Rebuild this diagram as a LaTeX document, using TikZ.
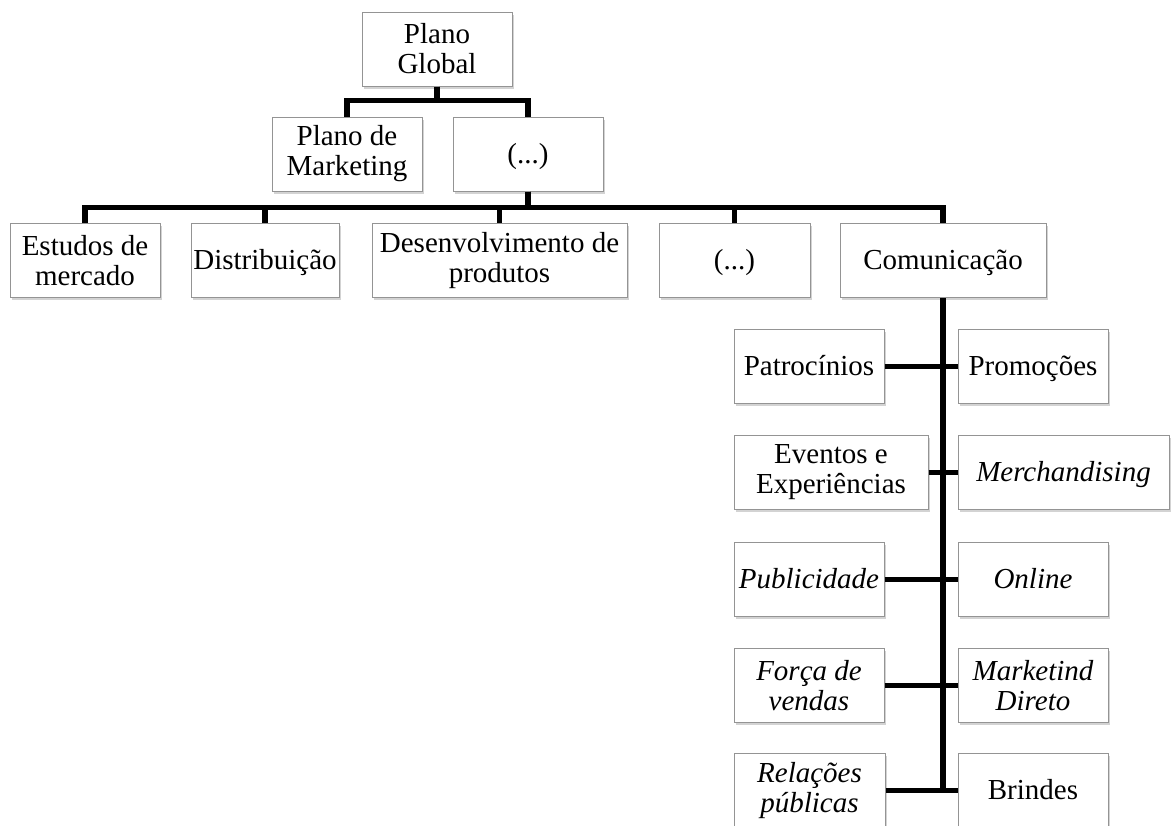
\documentclass[tikz,border=0pt]{standalone}
\usepackage{fontspec}
\setmainfont{Liberation Serif}
\usetikzlibrary{shadows}
\begin{document}
\begin{tikzpicture}[x=1pt,y=-1pt,
  box/.style={draw=black!42,line width=1pt,fill=white,inner sep=0pt,
    minimum height=74pt,align=center,
    font=\fontsize{29}{30}\selectfont,
    drop shadow={opacity=0.35,shadow xshift=1.8pt,shadow yshift=-2.5pt}},
  oneline/.style={text height=23.5pt,text depth=5pt},
  link/.style={line width=5.2pt,black}]
\useasboundingbox (0,0) rectangle (1173,825);
\clip (0,0) rectangle (1173,825);

% top level
\node[box,minimum width=150pt] (pg) at (437,49) {Plano\\Global};
% second level
\node[box,minimum width=150pt] (pm) at (347,154) {Plano de\\Marketing};
\node[box,oneline,minimum width=150pt] (etc1) at (528,154) {(...)};
% third level
\node[box,minimum width=150pt] (est) at (85,260.5) {Estudos de\\mercado};
\node[box,oneline,minimum width=148pt] (dis) at (265,260.5) {Distribuição};
\node[box,minimum width=255pt] (dev) at (499.5,260.5) {Desenvolvimento de\\produtos};
\node[box,oneline,minimum width=151pt] (etc2) at (734.5,260.5) {(...)};
\node[box,oneline,minimum width=206pt] (com) at (943,260.5) {Comunicação};
% communication tools
\node[box,oneline,minimum width=150pt] (pat) at (809,366.5) {Patrocínios};
\node[box,oneline,minimum width=150pt] (pro) at (1033,366.5) {Promoções};
\node[box,minimum width=194pt] (eve) at (831,472.5) {Eventos e\\Experiências};
\node[box,oneline,minimum width=211pt] (mer) at (1063.5,472.5) {\itshape Merchandising};
\node[box,oneline,minimum width=150pt] (pub) at (809,579.5) {\itshape Publicidade};
\node[box,oneline,minimum width=150pt] (onl) at (1033,579.5) {\itshape Online};
\node[box,minimum width=150pt] (frc) at (809,685.5) {\itshape Força de\\\itshape vendas};
\node[box,minimum width=150pt] (mkd) at (1033,685.5) {\itshape Marketind\\\itshape Direto};
\node[box,minimum width=151pt] (rel) at (809.5,790.5) {\itshape Relações\\\itshape públicas};
\node[box,oneline,minimum width=150pt] (bri) at (1033,790.5) {Brindes};

% connectors
\draw[link] (pg.south) -- ++(0,14) -| (pm.north);
\draw[link] (pg.south) -- ++(0,14) -| (etc1.north);
\foreach \n in {est,dis,dev,etc2,com}
  \draw[link] (etc1.south) -- ++(0,16) -| (\n.north);
\draw[link] (com.south) -- (com.south |- rel.east);
\draw[link] (pat.east) -- (pro.west);
\draw[link] (eve.east) -- (mer.west);
\draw[link] (pub.east) -- (onl.west);
\draw[link] (frc.east) -- (mkd.west);
\draw[link] (rel.east) -- (bri.west);
\end{tikzpicture}
\end{document}
